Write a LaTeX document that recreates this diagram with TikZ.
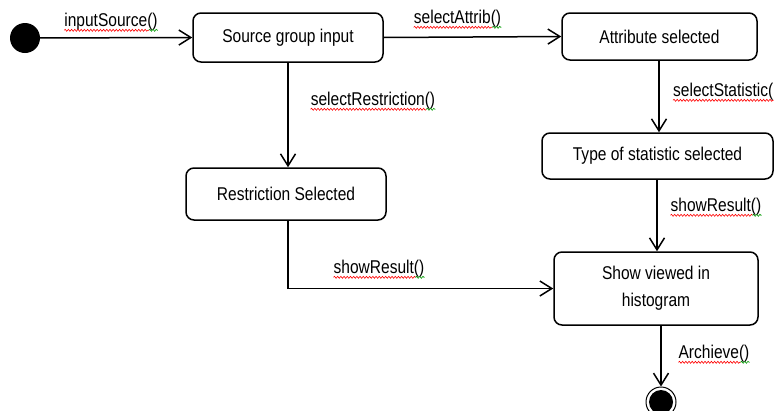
\documentclass[tikz,border=0pt]{standalone}
\usepackage{fontspec}
\setmainfont{Liberation Sans}[FakeStretch=0.84]
\usetikzlibrary{arrows.meta,decorations.pathmorphing,calc}
\begin{document}
\begin{tikzpicture}[x=1pt,y=-1pt,
  statebox/.style={draw, line width=1.5pt, rounded corners=8pt, align=center,
    font=\fontsize{18.5}{27}\selectfont, inner sep=0pt},
  flow/.style={line width=1.5pt, -{Straight Barb[length=12pt,width=15pt,line width=1.5pt]}},
  lbl/.style={font=\fontsize{18.5}{20}\selectfont, inner sep=0pt},
  squig/.style={decorate, decoration={snake, segment length=3.2pt, amplitude=1pt}, line width=0.6pt}
]
\useasboundingbox (0,0) rectangle (774,410);
\node[circle, fill=black, minimum size=30pt, inner sep=0pt] (start) at (25,38) {};
\node[statebox, minimum width=190pt, minimum height=49pt] (src) at (288,37.5) {Source group input};
\node[statebox, minimum width=195pt, minimum height=47pt] (attr) at (659.5,36.5) {Attribute selected};
\node[statebox, minimum width=231pt, minimum height=46pt] (type) at (657.5,156) {Type of statistic selected};
\node[statebox, minimum width=200pt, minimum height=52pt] (restr) at (286,194) {Restriction Selected};
\node[statebox, minimum width=204pt, minimum height=73pt] (show) at (656,288.5) {Show viewed in\\histogram};
\node[circle, draw, line width=1pt, minimum size=30pt, inner sep=0pt] (end) at (661,402) {};
\node[circle, fill=black, minimum size=24pt, inner sep=0pt] (endin) at (end) {};

\draw[flow] (start) -- (src.west);
\draw[flow] (src.east) -- (attr.west);
\draw[flow] (src.south) -- (src.south |- restr.north);
\draw[flow] (attr.south -| 659,0) -- (659,0 |- type.north);
\draw[flow] (type.south -| 657,0) -- (657,0 |- show.north);
\draw[flow] (restr.south -| 288,0) |- (show.west);
\draw[flow] (show.south -| 661,0) -- (end.north);

\node[lbl] (l1) at (111,22) {inputSource()};
\node[lbl] (l2) at (457.5,19) {selectAttrib()};
\node[lbl] (l3) at (373,101) {selectRestriction()};
\node[lbl, anchor=west] (l4) at (673,92) {selectStatistic(};
\node[lbl] (l5) at (716,207) {showResult()};
\node[lbl] (l6) at (379,269) {showResult()};
\node[lbl] (l7) at (714,354) {Archieve()};

\foreach \n in {l1,l2,l3,l5,l6,l7}{
  \draw[squig, red] ($(\n.base west)+(0,3.5)$) -- ($(\n.base east)+(-9,3.5)$);
  \draw[squig, green!60!black] ($(\n.base east)+(-9,3.5)$) -- ($(\n.base east)+(0,3.5)$);
}
\draw[squig, red] ($(l4.base west)+(0,3.5)$) -- ($(l4.base east)+(0,3.5)$);
\end{tikzpicture}
\end{document}
